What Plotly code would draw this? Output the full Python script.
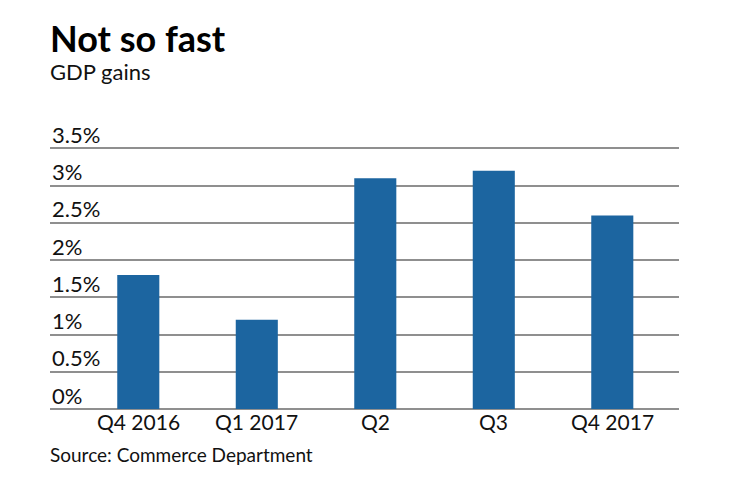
import plotly.graph_objects as go

categories = ["Q4 2016", "Q1 2017", "Q2", "Q3", "Q4 2017"]
gdp_gains = [1.8, 1.2, 3.1, 3.2, 2.6]
y_ticks = [0, 0.5, 1, 1.5, 2, 2.5, 3, 3.5]
y_tick_labels = ["0%", "0.5%", "1%", "1.5%", "2%", "2.5%", "3%", "3.5%"]

title = "Not so fast"
subtitle = "GDP gains"
source = "Source: Commerce Department"

FONT = "Lato, 'Open Sans', sans-serif"
BAR = "#1c65a0"
GRID = "#8f8f8f"

fig = go.Figure(go.Bar(x=categories, y=gdp_gains, marker=dict(color=BAR, line=dict(width=0)),
                       hoverinfo="skip"))

annotations = []
for v, t in zip(y_ticks, y_tick_labels):
    annotations.append(dict(x=0, xref="paper", y=v, yref="y", text=t, showarrow=False,
                            xanchor="left", yanchor="middle", yshift=14,
                            font=dict(family=FONT, size=22, color="#111")))
for c in categories:
    annotations.append(dict(x=c, xref="x", y=0, yref="paper", text=c, showarrow=False,
                            xanchor="center", yanchor="middle", yshift=-12,
                            font=dict(family=FONT, size=21, color="#111")))
annotations += [
    dict(x=0, xref="paper", y=1, yref="paper", text=f"<b>{title}</b>", showarrow=False,
         xanchor="left", yanchor="middle", yshift=109, xshift=-2,
         font=dict(family=FONT, size=36, color="#000")),
    dict(x=0, xref="paper", y=1, yref="paper", text=subtitle, showarrow=False,
         xanchor="left", yanchor="middle", yshift=76, xshift=-2,
         font=dict(family=FONT, size=22, color="#111")),
    dict(x=0, xref="paper", y=0, yref="paper", text=source, showarrow=False,
         xanchor="left", yanchor="middle", yshift=-45, xshift=-2,
         font=dict(family=FONT, size=19, color="#111")),
]

# page body has an 8px margin, so the figure is offset by 8px
fig.update_layout(
    width=732, height=474,
    margin=dict(l=42, r=61, t=138.5, b=72.7),
    paper_bgcolor="white", plot_bgcolor="white",
    bargap=0.645,
    showlegend=False,
    annotations=annotations,
    xaxis=dict(range=[-0.745, 4.563], showgrid=False, zeroline=False, showline=False,
               ticks="", showticklabels=False, fixedrange=True),
    yaxis=dict(range=[0, 3.52], tickvals=y_ticks, showticklabels=False, showgrid=True,
               gridcolor=GRID, gridwidth=1.5, zeroline=True, zerolinecolor=GRID,
               zerolinewidth=1.5, fixedrange=True),
)

fig.write_html("out.html")
